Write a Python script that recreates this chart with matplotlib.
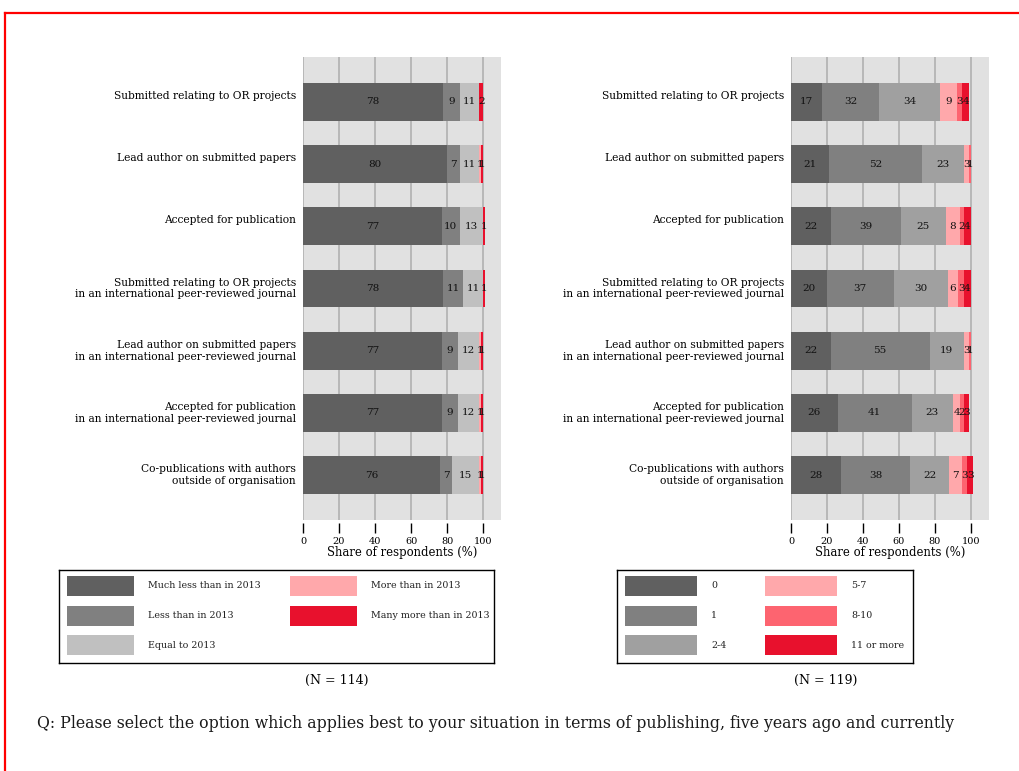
import matplotlib
matplotlib.use("Agg")
import matplotlib.pyplot as plt
from matplotlib.patches import Rectangle
from matplotlib.lines import Line2D
from matplotlib.transforms import ScaledTranslation
import numpy as np

plt.rcParams['font.family'] = ['DejaVu Serif']

categories = [
    "Submitted relating to OR projects",
    "Lead author on submitted papers",
    "Accepted for publication",
    "Submitted relating to OR projects\nin an international peer-reviewed journal",
    "Lead author on submitted papers\nin an international peer-reviewed journal",
    "Accepted for publication\nin an international peer-reviewed journal",
    "Co-publications with authors\noutside of organisation",
]

# Left panel: change compared with 2013 (N = 114)
left_labels = ["Much less than in 2013", "Less than in 2013", "Equal to 2013",
               "More than in 2013", "Many more than in 2013"]
left_colors = ["#606060", "#808080", "#c0c0c0", "#ffa8ab", "#e8112d"]
left_much_less = [78, 80, 77, 78, 77, 77, 76]
left_less = [9, 7, 10, 11, 9, 9, 7]
left_equal = [11, 11, 13, 11, 12, 12, 15]
left_more = [0, 1, 0, 0, 1, 1, 1]
left_many_more = [2, 1, 1, 1, 1, 1, 1]
left_series = [left_much_less, left_less, left_equal, left_more, left_many_more]

# Right panel: number of publications (N = 119)
right_labels = ["0", "1", "2-4", "5-7", "8-10", "11 or more"]
right_colors = ["#606060", "#808080", "#a0a0a0", "#ffa8ab", "#fd6470", "#e8112d"]
right_0 = [17, 21, 22, 20, 22, 26, 28]
right_1 = [32, 52, 39, 37, 55, 41, 38]
right_2_4 = [34, 23, 25, 30, 19, 23, 22]
right_5_7 = [9, 3, 8, 6, 3, 4, 7]
right_8_10 = [3, 1, 2, 3, 1, 2, 3]
right_11_more = [4, 0, 4, 4, 0, 3, 3]
right_series = [right_0, right_1, right_2_4, right_5_7, right_8_10, right_11_more]

x_ticks = [0, 20, 40, 60, 80, 100]
x_label = "Share of respondents (%)"
n_left = "(N = 114)"
n_right = "(N = 119)"
question = ("Q: Please select the option which applies best to your situation in terms "
            "of publishing, five years ago and currently")

W, H = 1020, 771
fig = plt.figure(figsize=(W / 100, H / 100), dpi=100)
fig.patch.set_facecolor("white")


def px_axes(x0, y0, x1, y1):
    return fig.add_axes([x0 / W, 1 - y1 / H, (x1 - x0) / W, (y1 - y0) / H])


def draw_panel(ax, series, colors):
    for sp in ax.spines.values():
        sp.set_visible(False)
    ax.spines["bottom"].set_position(("outward", 2))
    y = np.arange(len(categories))
    left = np.zeros(len(categories))
    ax.set_facecolor("#e1e1e1")
    for s, c in zip(series, colors):
        vals = np.array(s, dtype=float)
        ax.barh(y, vals, left=left, height=0.61, color=c, edgecolor="none",
                zorder=3)
        for yi, (l, v) in enumerate(zip(left, vals)):
            if v > 0:
                ax.text(l + v / 2, yi, f"{int(v)}", ha="center",
                        va="center", fontsize=7.5, color="#111111", zorder=4)
        left = left + vals
    ax.set_xlim(0, 110)
    ax.set_ylim(len(categories) - 1 + 0.72, -0.72)
    ax.set_xticks(x_ticks)
    ax.set_xticklabels([str(t) for t in x_ticks])
    ax.set_yticks(y)
    ax.set_yticklabels(categories, linespacing=1.2, va="center")
    ax.tick_params(axis="y", length=0, pad=5, labelsize=7.7)
    ax.tick_params(axis="x", length=7, width=1, color="black", pad=3,
                   direction="out", labelsize=7)
    for lab, txt in zip(ax.get_yticklabels(), categories):
        if "\n" not in txt:
            lab.set_transform(lab.get_transform() +
                              ScaledTranslation(0, 6 / 100, fig.dpi_scale_trans))
    ax.xaxis.grid(True, color="#b4b4b4", linewidth=1.3, zorder=1)
    ax.set_axisbelow(True)
    ax.set_xlabel(x_label, fontsize=8.4, labelpad=0)


ax_l = px_axes(303, 57, 501, 520)
draw_panel(ax_l, left_series, left_colors)
ax_r = px_axes(791, 57, 989, 520)
draw_panel(ax_r, right_series, right_colors)


def draw_legend(box, labels, colors, patch_x, patch_w, text_x):
    x0, y0, x1, y1 = box
    lax = px_axes(x0, y0, x1, y1)
    lax.set_xlim(0, x1 - x0)
    lax.set_ylim(y1 - y0, 0)
    lax.set_xticks([])
    lax.set_yticks([])
    for sp in lax.spines.values():
        sp.set_color("black")
        sp.set_linewidth(1.0)
    rows = [16, 45.5, 75]
    for i, (lab, c) in enumerate(zip(labels, colors)):
        col, row = divmod(i, 3)
        cy = rows[row]
        lax.add_patch(Rectangle((patch_x[col], cy - 10), patch_w, 20,
                                facecolor=c, edgecolor="none"))
        lax.text(text_x[col], cy, lab, ha="left", va="center", fontsize=6.8,
                 color="#222222")


draw_legend((59, 570, 494, 663), left_labels, left_colors,
            patch_x=[8, 231], patch_w=67, text_x=[89, 312])
draw_legend((617, 570, 913, 663), right_labels, right_colors,
            patch_x=[8, 148], patch_w=72, text_x=[94, 234])

fig.text(337 / W, 1 - 680 / H, n_left, ha="center", va="center", fontsize=9)
fig.text(826 / W, 1 - 680 / H, n_right, ha="center", va="center", fontsize=9)
fig.text(37 / W, 1 - 724 / H, question, ha="left", va="center", fontsize=11.3,
         color="#1a1a1a")

# red frame (top and left)
fig.add_artist(Line2D([5 / W, 1.0], [1 - 13 / H, 1 - 13 / H], color="#ff0000",
                      linewidth=1.6, transform=fig.transFigure))
fig.add_artist(Line2D([5 / W, 5 / W], [1 - 13 / H, 0.0], color="#ff0000",
                      linewidth=1.6, transform=fig.transFigure))

fig.savefig("out.png", dpi=100)
